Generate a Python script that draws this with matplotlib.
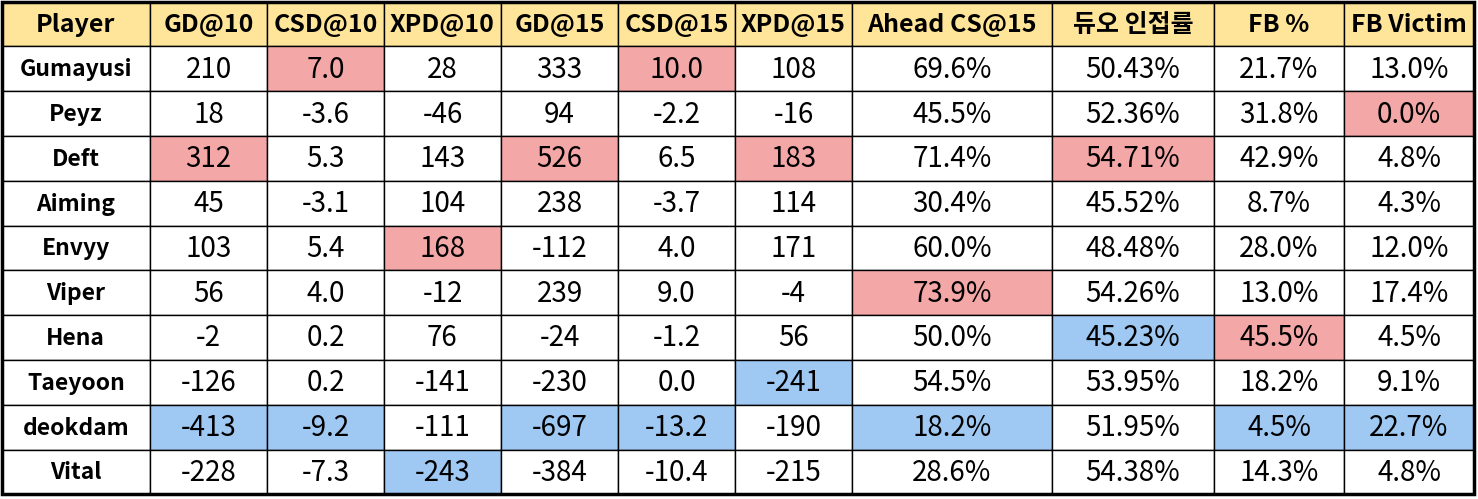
import matplotlib.pyplot as plt
from matplotlib.patches import Rectangle

plt.rcParams['font.family'] = ['Noto Sans CJK KR', 'DejaVu Sans']

columns = ["Player", "GD@10", "CSD@10", "XPD@10", "GD@15", "CSD@15", "XPD@15",
           "Ahead CS@15", "듀오 인접률", "FB %", "FB Victim"]
players = ["Gumayusi", "Peyz", "Deft", "Aiming", "Envyy", "Viper", "Hena",
           "Taeyoon", "deokdam", "Vital"]
gd10 = ["210", "18", "312", "45", "103", "56", "-2", "-126", "-413", "-228"]
csd10 = ["7.0", "-3.6", "5.3", "-3.1", "5.4", "4.0", "0.2", "0.2", "-9.2", "-7.3"]
xpd10 = ["28", "-46", "143", "104", "168", "-12", "76", "-141", "-111", "-243"]
gd15 = ["333", "94", "526", "238", "-112", "239", "-24", "-230", "-697", "-384"]
csd15 = ["10.0", "-2.2", "6.5", "-3.7", "4.0", "9.0", "-1.2", "0.0", "-13.2", "-10.4"]
xpd15 = ["108", "-16", "183", "114", "171", "-4", "56", "-241", "-190", "-215"]
ahead_cs15 = ["69.6%", "45.5%", "71.4%", "30.4%", "60.0%", "73.9%", "50.0%",
              "54.5%", "18.2%", "28.6%"]
duo = ["50.43%", "52.36%", "54.71%", "45.52%", "48.48%", "54.26%", "45.23%",
       "53.95%", "51.95%", "54.38%"]
fb = ["21.7%", "31.8%", "42.9%", "8.7%", "28.0%", "13.0%", "45.5%", "18.2%",
      "4.5%", "14.3%"]
fb_victim = ["13.0%", "0.0%", "4.8%", "4.3%", "12.0%", "17.4%", "4.5%", "9.1%",
             "22.7%", "4.8%"]

# (row, col) of highlighted cells: best in red, worst in blue
best = [(0, 2), (0, 5), (1, 10), (2, 1), (2, 4), (2, 6), (2, 8), (4, 3),
        (5, 7), (6, 9)]
worst = [(6, 8), (7, 6), (8, 1), (8, 2), (8, 4), (8, 5), (8, 7), (8, 9),
         (8, 10), (9, 3)]

table = [players, gd10, csd10, xpd10, gd15, csd15, xpd15, ahead_cs15, duo, fb, fb_victim]

# column edges and row height in pixels
col_edges = [1.5, 150, 267, 384, 501, 618, 735, 852, 1052, 1214, 1344, 1474]
row_h = 44.8
top = 1.5

fig = plt.figure(figsize=(14.78, 4.99), dpi=100)
ax = fig.add_axes([0, 0, 1, 1])
ax.set_xlim(0, 1478)
ax.set_ylim(499, 0)
ax.axis('off')

header_color = '#FFE599'
red = '#F4A7A7'
blue = '#9FC8F2'

n_rows = len(players) + 1
for r in range(n_rows):
    y0 = top + r * row_h
    for c in range(len(columns)):
        x0 = col_edges[c]
        w = col_edges[c + 1] - x0
        if r == 0:
            color = header_color
        elif (r - 1, c) in best:
            color = red
        elif (r - 1, c) in worst:
            color = blue
        else:
            color = 'white'
        ax.add_patch(Rectangle((x0, y0), w, row_h, facecolor=color,
                               edgecolor='black', linewidth=1.0))
        xc = x0 + w / 2
        yc = y0 + row_h / 2
        if r == 0:
            ax.text(xc, yc + 1, columns[c], ha='center', va='center',
                    fontsize=18, fontweight='bold')
        elif c == 0:
            ax.text(xc, yc + 1, table[c][r - 1], ha='center', va='center',
                    fontsize=16.5, fontweight='bold')
        else:
            ax.text(xc, yc + 1, table[c][r - 1], ha='center', va='center',
                    fontsize=20, fontweight='light')

# thick outer border
bottom = top + n_rows * row_h
ax.add_patch(Rectangle((col_edges[0], top), col_edges[-1] - col_edges[0],
                       bottom - top, facecolor='none', edgecolor='black',
                       linewidth=2.5))

fig.savefig('out.png', dpi=100)
